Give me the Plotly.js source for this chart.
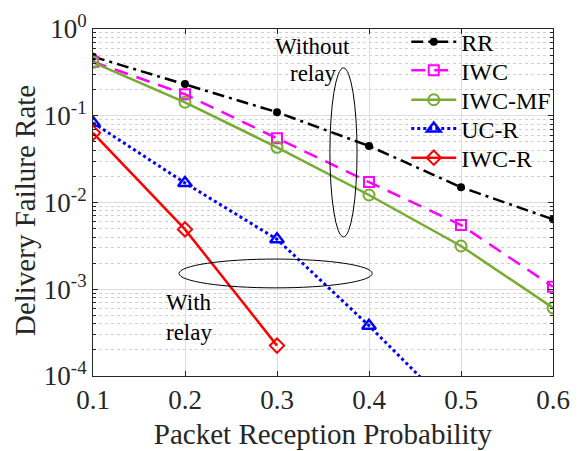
<!DOCTYPE html>
<html><head><meta charset="utf-8">
<script src="https://cdn.plot.ly/plotly-3.0.1.min.js"></script>
<style>body{margin:0;background:#fff}#g{width:585px;height:451px}</style>
</head><body><div id="g"></div>
<script>
const prob = [0.1, 0.2, 0.3, 0.4, 0.5, 0.6];
const rr = [0.48, 0.232, 0.11, 0.0448, 0.015, 0.0064];
const iwc = [0.42, 0.177, 0.055, 0.0172, 0.0055, 0.00107];
const iwcMf = [0.413, 0.143, 0.0433, 0.0122, 0.00315, 0.00061];
const ucR = [0.083, 0.0168, 0.00377, 0.00038, 0.000033];
const iwcR = [0.0635, 0.0049, 0.000224];
const seriesNames = ['RR', 'IWC', 'IWC-MF', 'UC-R', 'IWC-R'];
const yTickVals = [1, 0.1, 0.01, 0.001, 0.0001];
const yTickText = ['10<sup>0</sup>', '10<sup>-1</sup>', '10<sup>-2</sup>', '10<sup>-3</sup>', '10<sup>-4</sup>'];
const xTickVals = [0.1, 0.2, 0.3, 0.4, 0.5, 0.6];
const xTickText = ['0.1', '0.2', '0.3', '0.4', '0.5', '0.6'];
const xTitle = 'Packet Reception Probability';
const yTitle = 'Delivery Failure Rate';

// minor tick positions on the log axis: 2..9 times each decade
const minorVals = [];
yTickVals.slice(1).forEach(d => { for (let m = 2; m <= 9; m++) minorVals.push(d * m); });

const F = 'Liberation Serif, Times New Roman, serif';
const traces = [
  {x: prob, y: rr, name: seriesNames[0], legend: 'legend', mode: 'lines+markers',
   line: {color: '#000000', width: 2.5, dash: '12px,5px,3px,5px'},
   marker: {symbol: 'circle', size: 8, color: '#000000'}},
  {x: prob, y: iwc, name: seriesNames[1], legend: 'legend2', mode: 'lines+markers',
   line: {color: '#ff00ff', width: 2.5, dash: '14px,9px'},
   marker: {symbol: 'square-open', size: 10, color: '#ff00ff', line: {width: 2}}},
  {x: prob, y: iwcMf, name: seriesNames[2], legend: 'legend3', mode: 'lines+markers',
   line: {color: '#77ac30', width: 2.5},
   marker: {symbol: 'circle-open', size: 11, color: '#77ac30', line: {width: 2}}},
  {x: prob.slice(0, ucR.length), y: ucR, name: seriesNames[3], legend: 'legend4', mode: 'lines+markers',
   line: {color: '#0000ff', width: 3, dash: 'dot'},
   marker: {symbol: 'triangle-up-open', size: 12, color: '#0000ff', line: {width: 2.5}}},
  {x: prob.slice(0, iwcR.length), y: iwcR, name: seriesNames[4], legend: 'legend5', mode: 'lines+markers',
   line: {color: '#ff0000', width: 2.5},
   marker: {symbol: 'diamond-open', size: 11, color: '#ff0000', line: {width: 2}}}
];

const legRowY = [0.962, 0.880, 0.795, 0.712, 0.628];
const mkLegend = y => ({x: 0.681, xanchor: 'left', y: y, yanchor: 'middle', bgcolor: 'rgba(0,0,0,0)',
  font: {family: F, size: 24, color: '#000'}, itemwidth: 45, borderwidth: 0});

const layout = {
  width: 585, height: 451,
  margin: {l: 93, r: 32, t: 29, b: 75},
  paper_bgcolor: '#fff', plot_bgcolor: '#fff',
  font: {family: F, size: 22, color: '#262626'},
  showlegend: true,
  legend: mkLegend(legRowY[0]),
  legend2: mkLegend(legRowY[1]),
  legend3: mkLegend(legRowY[2]),
  legend4: mkLegend(legRowY[3]),
  legend5: mkLegend(legRowY[4]),
  xaxis: {range: [0.1, 0.6], tickvals: xTickVals, ticktext: xTickText,
          showline: true, mirror: 'ticks', linecolor: '#262626', linewidth: 1,
          ticks: 'inside', ticklen: 5, tickcolor: '#262626',
          showgrid: true, gridcolor: '#dddddd', gridwidth: 1, zeroline: false,
          title: {text: xTitle, font: {family: F, size: 29, color: '#262626'}, standoff: 9},
          tickfont: {family: F, size: 27, color: '#262626'}},
  yaxis: {type: 'log', range: [-4, 0], tickvals: yTickVals, ticktext: yTickText,
          showline: true, mirror: 'ticks', linecolor: '#262626', linewidth: 1,
          ticks: 'inside', ticklen: 5, tickcolor: '#262626',
          showgrid: true, gridcolor: '#dddddd', gridwidth: 1, zeroline: false,
          minor: {tickmode: 'array', tickvals: minorVals, showgrid: true, gridcolor: '#d0d0d0',
                  griddash: 'dot', gridwidth: 1, ticks: 'inside', ticklen: 3, tickcolor: '#262626'},
          tickfont: {family: F, size: 27, color: '#262626'}},
  shapes: [
    {type: 'circle', xref: 'paper', yref: 'paper', x0: 0.515, x1: 0.574, y0: 0.401, y1: 0.888,
     line: {color: '#000', width: 1}},
    {type: 'circle', xref: 'paper', yref: 'paper', x0: 0.187, x1: 0.607, y0: 0.254, y1: 0.337,
     line: {color: '#000', width: 1}}
  ],
  annotations: [
    {xref: 'paper', yref: 'paper', x: -0.148, y: 0.478, xanchor: 'center', yanchor: 'middle',
     text: yTitle, textangle: -90, showarrow: false, font: {family: F, size: 29, color: '#262626'}},
    {xref: 'paper', yref: 'paper', x: 0.478, y: 0.95, xanchor: 'center', yanchor: 'middle',
     text: 'Without', showarrow: false, font: {family: F, size: 23, color: '#000'}},
    {xref: 'paper', yref: 'paper', x: 0.478, y: 0.872, xanchor: 'center', yanchor: 'middle',
     text: 'relay', showarrow: false, font: {family: F, size: 23, color: '#000'}},
    {xref: 'paper', yref: 'paper', x: 0.155, y: 0.255, xanchor: 'left', yanchor: 'top',
     text: 'With<br>relay', showarrow: false, align: 'left',
     font: {family: F, size: 23, color: '#000'}}
  ]
};
Plotly.newPlot('g', traces, layout, {displayModeBar: false, staticPlot: true});
</script></body></html>
